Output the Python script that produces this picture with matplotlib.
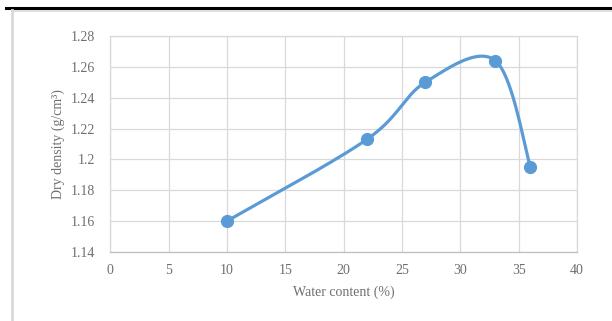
import numpy as np
import matplotlib
matplotlib.use("Agg")
import matplotlib.pyplot as plt
from matplotlib.lines import Line2D

water_content = [10, 22, 27, 33, 36]
dry_density = [1.160, 1.213, 1.250, 1.264, 1.195]
x_ticks = [0, 5, 10, 15, 20, 25, 30, 35, 40]
y_ticks = [1.14, 1.16, 1.18, 1.20, 1.22, 1.24, 1.26, 1.28]
y_tick_labels = ["1.14", "1.16", "1.18", "1.2", "1.22", "1.24", "1.26", "1.28"]

plt.rcParams['font.family'] = ['Liberation Serif', 'DejaVu Serif']

def smooth(xs, ys, n=60):
    # Excel-style smoothed line (Catmull-Rom bezier)
    P = np.column_stack([xs, ys]).astype(float)
    out = []
    m = len(P)
    for i in range(m - 1):
        p0 = P[i - 1] if i > 0 else P[i]
        p1 = P[i]
        p2 = P[i + 1]
        p3 = P[i + 2] if i + 2 < m else P[i + 1]
        c1 = p1 + (p2 - p0) / 6.0
        c2 = p2 - (p3 - p1) / 6.0
        t = np.linspace(0, 1, n)[:, None]
        seg = ((1 - t) ** 3) * p1 + 3 * ((1 - t) ** 2) * t * c1 + 3 * (1 - t) * t ** 2 * c2 + t ** 3 * p2
        out.append(seg if i == 0 else seg[1:])
    s = np.vstack(out)
    return s[:, 0], s[:, 1]

fig = plt.figure(figsize=(6.12, 3.21), dpi=100)
ax = fig.add_axes([0.180, 0.215, 0.763, 0.673])

color = '#5B9BD5'
sx, sy = smooth(water_content, dry_density)
ax.plot(sx, sy, color=color, lw=2.3, solid_capstyle='round', zorder=3)
ax.plot(water_content, dry_density, 'o', color=color, ms=8.5, zorder=4)

txt = '#6F6F6F'
ax.set_xlim(0, 40)
ax.set_ylim(1.14, 1.28)
ax.set_xticks(x_ticks)
ax.set_yticks(y_ticks)
ax.set_yticklabels(y_tick_labels)
ax.grid(True, color='#D9D9D9', lw=0.9)
ax.set_axisbelow(True)
for s in ['top', 'right', 'left']:
    ax.spines[s].set_color('#D9D9D9')
    ax.spines[s].set_linewidth(0.9)
ax.spines['bottom'].set_color('#BFBFBF')
ax.spines['bottom'].set_linewidth(0.9)
ax.tick_params(axis='y', length=0, labelsize=10, labelcolor=txt, pad=11)
ax.tick_params(axis='x', length=0, labelsize=10, labelcolor=txt, pad=9)
ax.set_xlabel('Water content (%)', fontsize=10, color=txt, labelpad=6)
ax.set_ylabel('Dry density (g/cm\u00b3)', fontsize=10, color=txt, labelpad=4)

# chart frame and heading rule
fig.add_artist(Line2D([6/612, 1], [1 - 8/321, 1 - 8/321], color='black', lw=2.2))
fig.add_artist(Line2D([12/612, 1], [1 - 10.5/321, 1 - 10.5/321], color='#D9D9D9', lw=1.2))
fig.add_artist(Line2D([12/612, 12/612], [0, 1 - 10/321], color='#D9D9D9', lw=2.0))

fig.savefig('out.png', dpi=100)
